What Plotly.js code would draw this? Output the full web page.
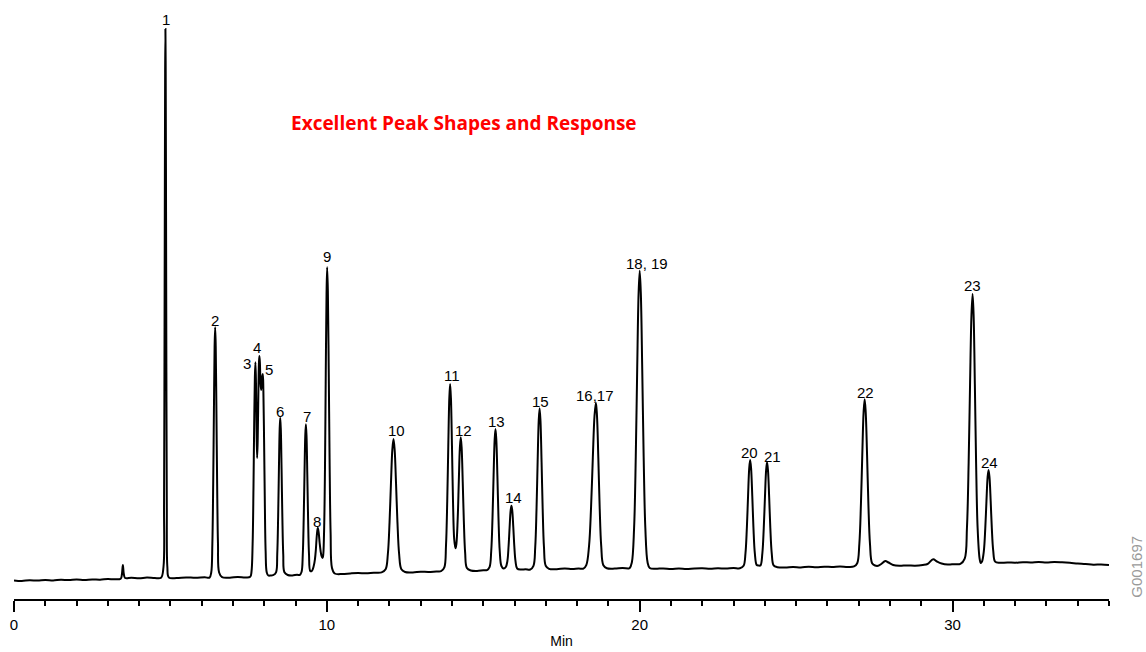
<!DOCTYPE html>
<html>
<head>
<meta charset="utf-8">
<script src="https://cdn.plot.ly/plotly-3.0.1.min.js"></script>
<style>
  html, body { margin: 0; padding: 0; background: #ffffff; }
  #chart { width: 1146px; height: 652px; }
</style>
</head>
<body>
<div id="chart"></div>
<script>
// Retention time (min)
const time = [
  0.00, 0.25, 0.50, 0.75, 1.00, 1.25, 1.50, 1.75, 2.00, 2.25, 2.50, 2.75, 3.00, 3.20,
  3.41, 3.45, 3.48, 3.51, 3.55, 3.75, 4.00, 4.25, 4.50, 4.70,
  4.778, 4.796, 4.809, 4.820, 4.831, 4.840, 4.849, 4.860, 4.871, 4.884, 4.902,
  4.95, 5.20, 5.50, 5.80, 6.10, 6.25,
  6.304, 6.340, 6.367, 6.390, 6.412, 6.430, 6.448, 6.470, 6.493, 6.520, 6.556,
  6.65, 6.90, 7.15, 7.40, 7.55,
  7.590, 7.627, 7.654, 7.677, 7.699, 7.717, 7.735, 7.755, 7.772, 7.790, 7.815, 7.832, 7.845,
  7.860, 7.880, 7.900, 7.920, 7.937, 7.953, 7.971, 7.993, 8.016, 8.043, 8.079, 8.13,
  8.20, 8.28,
  8.376, 8.414, 8.443, 8.467, 8.491, 8.510, 8.529, 8.553, 8.577, 8.606, 8.644,
  8.75, 8.90, 9.05, 9.13,
  9.19, 9.23, 9.26, 9.285, 9.31, 9.33, 9.35, 9.375, 9.40, 9.43, 9.47, 9.52,
  9.58, 9.62, 9.65, 9.68, 9.71, 9.74, 9.77, 9.80, 9.83, 9.86, 9.88,
  9.91, 9.94, 9.965, 9.99, 10.01, 10.032, 10.06, 10.087, 10.12, 10.164, 10.25,
  10.50, 10.75, 11.00, 11.25, 11.50, 11.75,
  11.878, 11.950, 12.004, 12.049, 12.094, 12.130, 12.166, 12.211, 12.256, 12.310, 12.382,
  12.50, 12.75, 13.00, 13.25, 13.50, 13.65,
  13.755, 13.808, 13.848, 13.881, 13.914, 13.940, 13.966, 13.999, 14.032, 14.070, 14.110,
  14.140, 14.182, 14.217, 14.252, 14.280, 14.308, 14.343, 14.378, 14.420, 14.476,
  14.60, 14.80, 15.00, 15.12,
  15.200, 15.254, 15.295, 15.329, 15.363, 15.390, 15.417, 15.451, 15.485, 15.526, 15.580, 15.650,
  15.720, 15.770, 15.809, 15.842, 15.874, 15.900, 15.926, 15.959, 15.991, 16.030, 16.082,
  16.20, 16.35, 16.50,
  16.604, 16.660, 16.702, 16.737, 16.772, 16.800, 16.828, 16.863, 16.898, 16.940, 16.996,
  17.10, 17.35, 17.60, 17.85, 18.05, 18.20,
  18.292, 18.380, 18.446, 18.501, 18.556, 18.600, 18.634, 18.677, 18.719, 18.770, 18.838,
  18.95, 19.20, 19.45, 19.65,
  19.68, 19.748, 19.820, 19.874, 19.919, 19.964, 20.000, 20.036, 20.081, 20.126, 20.180, 20.252, 20.32,
  20.50, 20.75, 21.00, 21.25, 21.50, 21.75, 22.00, 22.25, 22.50, 22.75, 23.00, 23.20,
  23.320, 23.380, 23.425, 23.463, 23.500, 23.530, 23.560, 23.598, 23.635, 23.680, 23.740, 23.800,
  23.860, 23.920, 23.965, 24.003, 24.040, 24.070, 24.100, 24.138, 24.175, 24.220, 24.280,
  24.40, 24.65, 24.90, 25.15, 25.40, 25.65, 25.90, 26.15, 26.40, 26.65, 26.85,
  26.952, 27.020, 27.071, 27.114, 27.156, 27.190, 27.224, 27.267, 27.309, 27.360, 27.428,
  27.52, 27.62, 27.72, 27.85, 27.95, 28.10, 28.30, 28.55, 28.80, 29.05, 29.20, 29.38, 29.50,
  29.65, 29.85, 30.05, 30.25,
  30.388, 30.460, 30.514, 30.559, 30.604, 30.640, 30.672, 30.712, 30.752, 30.800, 30.864, 30.900,
  30.940, 31.000, 31.045, 31.083, 31.120, 31.150, 31.180, 31.218, 31.255, 31.300, 31.360,
  31.50, 31.75, 32.00, 32.25, 32.50, 32.75, 33.00, 33.25, 33.50, 33.75, 34.00, 34.25, 34.50,
  34.75, 35.00
];

// Detector signal (arbitrary units)
const signal = [
  18.5, 18.0, 18.8, 18.4, 19.0, 18.6, 19.2, 18.9, 19.4, 19.0, 19.6, 19.3, 20.0, 19.7,
  20.3, 25, 34, 25, 21, 21.2, 20.8, 21.4, 21.0, 21.3,
  32, 95, 227, 387, 527, 570, 527, 387, 227, 95, 32,
  21.5, 21.0, 21.6, 21.2, 21.7, 21.4,
  26.5, 55.3, 115.3, 188.4, 252.4, 271.7, 252.4, 188.4, 115.3, 55.3, 26.5,
  21.8, 21.3, 22.0, 21.6, 22.2,
  27, 55, 110, 175, 222, 236.7, 215, 165, 141, 160, 215, 238, 243,
  236, 215, 209, 216, 223, 225, 208, 160, 100, 48, 26.5, 23.5,
  23.5, 23.8,
  26.7, 44.8, 82.7, 128.8, 169.1, 181.3, 169.1, 128.8, 82.7, 44.8, 26.7,
  24.0, 23.6, 24.3, 24.0,
  27, 44.3, 80.5, 124.5, 163.1, 174.7, 163.1, 124.5, 80.5, 44.3, 28, 28,
  33, 40, 50, 64, 71.3, 66, 56, 48, 43, 41, 43,
  66, 130, 225, 305, 331.7, 308, 230, 140, 66, 31, 25.5,
  25.0, 25.6, 26.0, 25.7, 26.3, 26.6,
  29.7, 45, 76.9, 115.7, 149.8, 160, 149.8, 115.7, 76.9, 45, 29.7,
  27.0, 26.6, 27.3, 27.0, 27.6, 27.8,
  31.7, 53.2, 98.1, 152.7, 200.6, 215, 200.6, 152.7, 98.1, 60, 50.7,
  55, 80, 117.3, 151.4, 161.7, 151.4, 117.3, 78.3, 46.3, 31,
  28.5, 28.0, 28.7, 28.9,
  31.8, 48, 81.9, 123, 159.1, 170, 159.1, 123, 81.9, 48, 33, 30.5,
  32, 37.9, 53.2, 72, 88.4, 93.3, 88.4, 72, 53.2, 37.9, 30.5,
  29.4, 29.8, 29.5,
  33.2, 51.7, 90.3, 137.2, 178.3, 190.7, 178.3, 137.2, 90.3, 51.7, 33.2,
  30.2, 29.8, 30.5, 30.1, 30.6, 30.3,
  33.8, 52.9, 92.7, 141.1, 183.5, 196.3, 183.5, 141.1, 92.7, 52.9, 33.8,
  30.8, 30.4, 30.9, 30.6,
  31, 36.5, 70.7, 142.2, 229.1, 305.4, 328.3, 305.4, 229.1, 142.2, 70.7, 36.5, 31,
  30.2, 30.6, 29.9, 30.4, 30.0, 30.6, 30.8, 30.2, 30.7, 30.4, 31.0, 30.7,
  33.2, 45.6, 71.5, 103, 130.7, 139, 130.7, 103, 71.5, 45.6, 34, 33.5,
  33.6, 45.7, 71, 101.7, 128.6, 136.7, 128.6, 101.7, 71, 45.7, 33.6,
  31.8, 31.4, 32.0, 31.6, 32.2, 31.8, 32.3, 32.0, 32.5, 32.1, 32.6,
  35.8, 55.1, 95.2, 144, 186.8, 199.7, 186.8, 144, 95.2, 55.1, 35.8,
  33.5, 33.2, 35, 38, 36.5, 34, 33.2, 33.6, 33.3, 34.0, 35, 39.7, 37.5,
  35.5, 34.5, 34.8, 35.1,
  40.4, 71.5, 136.3, 215.1, 284.2, 305, 284.2, 215.1, 136.3, 71.5, 40.4, 36,
  37.4, 48.1, 70.6, 97.9, 121.8, 129, 121.8, 97.9, 70.6, 48.1, 37.4,
  36.2, 36.6, 36.3, 36.8, 36.5, 37.0, 36.6, 37.0, 36.7, 36.2, 35.5, 35.0, 34.3,
  34.5, 34.0
];

// Peak labels and where they sit (time, signal level)
const peakLabels = ['1','2','3','4','5','6','7','8','9','10','11','12','13','14','15',
                    '16,17','18, 19','20','21','22','23','24'];
const labelTimes = [4.86, 6.43, 7.46, 7.78, 8.16, 8.51, 9.35, 9.69, 10.01, 12.21, 14.00, 14.38,
                    15.41, 15.95, 16.82, 18.56, 20.23, 23.51, 24.25, 27.22, 30.64, 31.18];
const labelLevels = [580, 279, 235.7, 251.3, 230, 188, 183, 77.3, 343, 168.3, 223.3, 169,
                     177.3, 101.7, 198, 204, 335.7, 146.3, 143, 206.7, 313.7, 136.7];

const chartTitle = 'Excellent Peak Shapes and Response';
const xTitle = 'Min';
const figureCode = 'G001697';

const labelFont = { family: 'Liberation Sans, Arial, sans-serif', size: 15, color: '#000000' };

const annotations = peakLabels.map((t, i) => ({
  x: labelTimes[i], y: labelLevels[i], xref: 'x', yref: 'y',
  text: t, showarrow: false, xanchor: 'center', yanchor: 'middle',
  font: labelFont
}));

annotations.push({
  x: 0.251, y: 0.808, xref: 'paper', yref: 'paper',
  text: '<b>' + chartTitle + '</b>', showarrow: false,
  xanchor: 'left', yanchor: 'middle',
  font: { family: 'Open Sans, Noto Sans, sans-serif', size: 19, color: '#ff0000' }
});

annotations.push({
  x: 1.0256, y: 0.055, xref: 'paper', yref: 'paper',
  text: figureCode, showarrow: false, textangle: -90,
  xanchor: 'center', yanchor: 'middle',
  font: { family: 'Liberation Sans, Arial, sans-serif', size: 15, color: '#9a9a9a' }
});

const data = [{
  x: time, y: signal, type: 'scatter', mode: 'lines',
  line: { color: '#000000', width: 2, shape: 'spline', smoothing: 1 },
  hoverinfo: 'x+y'
}];

const layout = {
  width: 1146, height: 652,
  margin: { l: 14, r: 37, t: 10, b: 53 },
  paper_bgcolor: '#ffffff', plot_bgcolor: '#ffffff',
  showlegend: false,
  xaxis: {
    range: [0, 35], showgrid: false, zeroline: false,
    showline: true, linecolor: '#000000', linewidth: 2,
    ticks: 'outside', ticklen: 11, tickwidth: 2, tickcolor: '#000000',
    tick0: 0, dtick: 10,
    minor: { dtick: 1, ticks: 'outside', ticklen: 5, tickwidth: 2, tickcolor: '#000000', showgrid: false },
    tickfont: labelFont,
    title: { text: xTitle, font: { family: 'Liberation Sans, Arial, sans-serif', size: 14, color: '#000000' }, standoff: 4 },
    fixedrange: true
  },
  yaxis: { range: [0, 589], visible: false, fixedrange: true },
  annotations: annotations
};

Plotly.newPlot('chart', data, layout, { displayModeBar: false, staticPlot: true });
</script>
</body>
</html>
